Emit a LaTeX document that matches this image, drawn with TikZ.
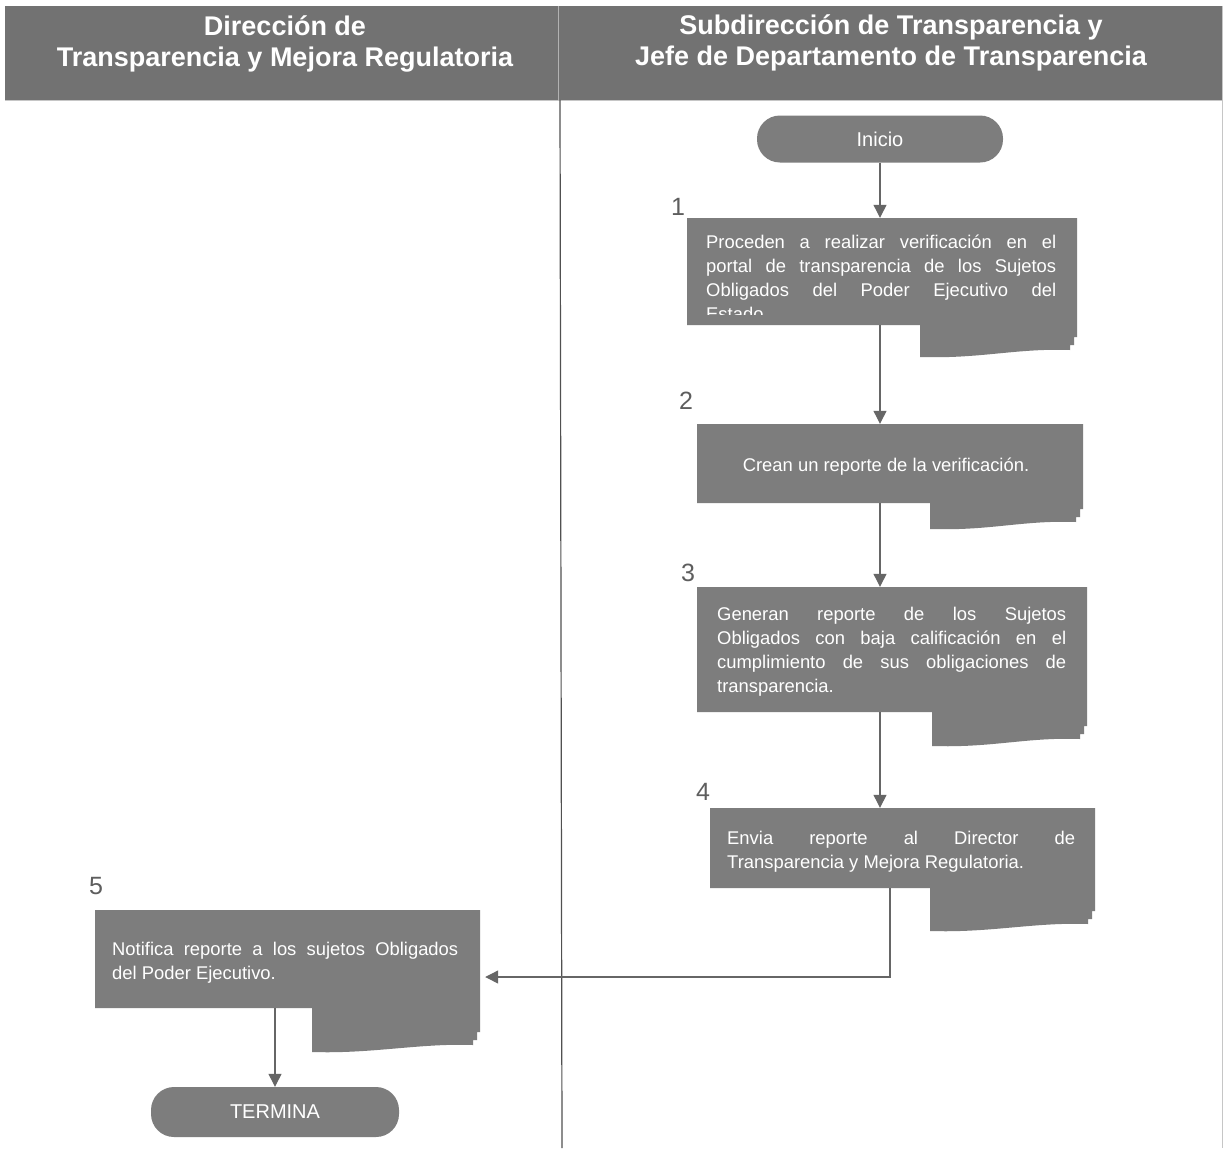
\documentclass[tikz,border=0pt]{standalone}
\usepackage{fontspec}
\setmainfont{Liberation Sans}
\usetikzlibrary{arrows.meta,calc}

\definecolor{boxgray}{HTML}{7D7D7D}
\definecolor{headgray}{HTML}{727272}
\definecolor{linegray}{HTML}{666666}
\definecolor{numgray}{HTML}{5E5E5E}
\definecolor{lanegray}{HTML}{505050}

\tikzset{
  flow/.style={draw=linegray, line width=1.2pt, -{Triangle[length=13pt,width=13pt]}},
  terminal/.style={fill=boxgray, text=white, rounded corners=23pt, inner sep=0,
    font=\fontsize{20}{24}\selectfont},
  stepnum/.style={text=numgray, inner sep=0, font=\fontsize{25}{25}\selectfont},
  boxtext/.style={text=white, inner sep=0, anchor=north west, align=left,
    font=\fontsize{18.4}{24}\selectfont},
  boxfill/.style={fill=boxgray},
  headtext/.style={text=white, align=center, inner sep=0,
    font=\bfseries\fontsize{27}{31}\selectfont},
}

% Process box drawn as a document shape: main rectangle (x1,y1)-(x2,y2)
% with a lower right tab from xm down to y3 with a wavy bottom edge.
% #1 name, #2 x1, #3 y1, #4 x2, #5 y2, #6 xm, #7 y3
\newcommand{\docbox}[7]{%
  \fill[boxfill] (#2,#3) -- (#4,#3) -- (#4,{#7-20}) -- ({#4-3},{#7-20})
    -- ({#4-3},{#7-12}) -- ({#4-7},{#7-12}) -- ({#4-7},{#7-7})
    .. controls ({#4-60},{#7-9}) and ({#6+60},{#7+2}) .. (#6,#7)
    -- (#6,#5) -- (#2,#5) -- cycle;
  \node[inner sep=0, minimum width={(#4-#2)*1pt}, minimum height={(#5-#3)*1pt}]
    (#1) at ({(#2+#4)/2},{(#3+#5)/2}) {};
}

\begin{document}
\begin{tikzpicture}[x=1pt, y=-1pt]
\useasboundingbox (0,0) rectangle (1225,1148);
\fill[white] (0,0) rectangle (1225,1148);

% header band and lanes
\fill[headgray] (5,6) rectangle (1222,100);
\draw[gray!60, line width=0.8pt] (558,6) -- (558,100);
\draw[gray!45, line width=1pt] (5,100) -- (1222,100);
\draw[lanegray, line width=1.2pt] (560,100) -- (562,1148);
\draw[gray!45, line width=1pt] (1222,6) -- (1222,1148);

\node[headtext] (h1) at (285,44) {Dirección de\\Transparencia y Mejora Regulatoria};
\node[headtext] (h2) at (891,43) {Subdirección de Transparencia y\\Jefe de Departamento de Transparencia};

% start and end
\node[terminal, minimum width=246pt, minimum height=47pt] (ini) at (880,139) {Inicio};
\node[terminal, minimum width=248pt, minimum height=50pt] (fin) at (275,1112) {TERMINA};

% process boxes
\docbox{b1}{687}{218}{1077}{325}{920}{357}
\docbox{b2}{697}{424}{1083}{503}{930}{529}
\docbox{b3}{697}{587}{1087}{712}{932}{746}
\docbox{b4}{710}{808}{1095}{888}{930}{931}
\docbox{b5}{95}{910}{480}{1008}{312}{1052}

% step numbers
\node[stepnum] (n1) at (678,207) {1};
\node[stepnum] (n2) at (686,401) {2};
\node[stepnum] (n3) at (688,573) {3};
\node[stepnum] (n4) at (703,792) {4};
\node[stepnum] (n5) at (96,886) {5};

% box texts
\begin{scope}
  \clip (687,218) rectangle (1077,314);
  \node[boxtext] (t1) at (706,235) {%
    \makebox[350pt][s]{Proceden a realizar verificación en el}\\
    \makebox[350pt][s]{portal de transparencia de los Sujetos}\\
    \makebox[350pt][s]{Obligados del Poder Ejecutivo del}\\
    Estado.};
\end{scope}
\node[text=white, inner sep=0, font=\fontsize{18.4}{24}\selectfont] (t2) at (886,467)
  {Crean un reporte de la verificación.};
\node[boxtext] (t3) at (717,607) {%
  \makebox[349pt][s]{Generan reporte de los Sujetos}\\
  \makebox[349pt][s]{Obligados con baja calificación en el}\\
  \makebox[349pt][s]{cumplimiento de sus obligaciones de}\\
  transparencia.};
\node[boxtext] (t4) at (727,831) {%
  \makebox[348pt][s]{Envia reporte al Director de}\\
  Transparencia y Mejora Regulatoria.};
\node[boxtext] (t5) at (112,942) {%
  \makebox[346pt][s]{Notifica reporte a los sujetos Obligados}\\
  del Poder Ejecutivo.};

% connectors
\coordinate (turn) at (890,977);
\draw[flow] (ini.south) -- (ini.south |- b1.north);
\draw[flow] (b1.south -| ini.south) -- (b2.north -| ini.south);
\draw[flow] (b2.south -| ini.south) -- (b3.north -| ini.south);
\draw[flow] (b3.south -| ini.south) -- (b4.north -| ini.south);
\draw[flow] (b4.south -| turn) -- (turn) -- ([xshift=5pt]b5.east |- turn);
\draw[flow] (b5.south -| fin.north) -- (fin.north);
\end{tikzpicture}
\end{document}
